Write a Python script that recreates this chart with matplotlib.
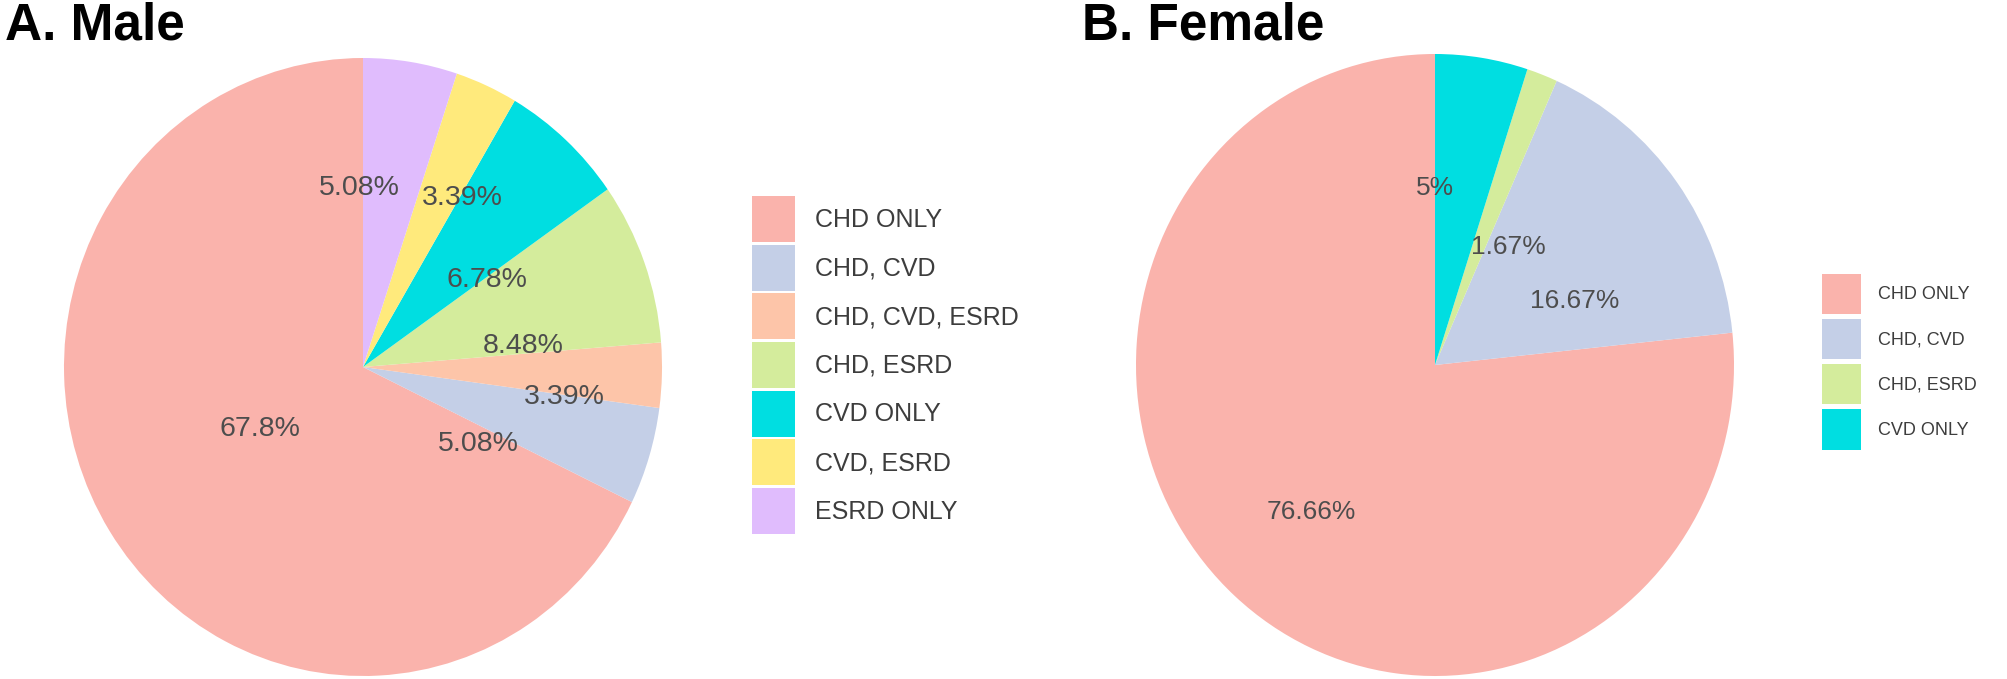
import numpy as np
import matplotlib
matplotlib.use("Agg")
from matplotlib import pyplot as plt

W, H = 2008, 679
DPI = 100

plt.rcParams['font.family'] = ['Liberation Sans', 'DejaVu Sans']

# -- data --------------------------------------------------------------------
male_groups = ['CHD ONLY', 'CHD, CVD', 'CHD, CVD, ESRD', 'CHD, ESRD',
               'CVD ONLY', 'CVD, ESRD', 'ESRD ONLY']
male_pct = [67.8, 5.08, 3.39, 8.48, 6.78, 3.39, 5.08]

female_groups = ['CHD ONLY', 'CHD, CVD', 'CHD, ESRD', 'CVD ONLY']
female_pct = [76.66, 16.67, 1.67, 5]

group_colors = {
    'CHD ONLY': '#FAB3AC',
    'CHD, CVD': '#C4CFE7',
    'CHD, CVD, ESRD': '#FDC5A9',
    'CHD, ESRD': '#D4EC9C',
    'CVD ONLY': '#00DEE1',
    'CVD, ESRD': '#FFEA7C',
    'ESRD ONLY': '#E0BCFD',
}

# label placement (clockwise degrees from 12 o'clock, fraction of radius)
male_lab_ang = [239.8, 122.8, 98.2, 82.6, 55.9, 31.3, -1.3]
male_lab_r = [0.40, 0.46, 0.68, 0.54, 0.50, 0.64, 0.58]
female_lab_ang = [221.2, 66.3, 32.8, 0.0]
female_lab_r = [0.63, 0.51, 0.45, 0.57]


def fmt(v):
    return ('%.2f' % v).rstrip('0').rstrip('.') + '%'


def px_axes(cx, cy, rx, ry):
    return [(cx - rx) / W, (H - cy - ry) / H, 2 * rx / W, 2 * ry / H]


def draw(rect, groups, vals, lab_ang, lab_r, fsize):
    ax = fig.add_axes(rect)
    wedges, _ = ax.pie(vals, colors=[group_colors[g] for g in groups],
                       startangle=90, counterclock=True, radius=1,
                       wedgeprops=dict(linewidth=0))
    ax.set_aspect('auto')
    ax.set_xlim(-1, 1)
    ax.set_ylim(-1, 1)
    ax.axis('off')
    for v, a, r in zip(vals, lab_ang, lab_r):
        t = np.deg2rad(90 - a)
        ax.text(r * np.cos(t), r * np.sin(t), fmt(v), ha='center',
                va='center', fontsize=fsize, color='#4D4D4D')
    return wedges


fig = plt.figure(figsize=(W / DPI, H / DPI), dpi=DPI)

# -- Male ------------------------------------------------------------------
mw = draw(px_axes(363, 367, 299, 309), male_groups, male_pct,
          male_lab_ang, male_lab_r, 20.5)
fig.text(5 / W, 1 - 40 / H, 'A. Male', fontsize=37, fontweight='bold',
         ha='left', va='baseline')
fig.legend(mw, male_groups, loc='upper left',
           bbox_to_anchor=(752 / W, 1 - 196 / H), frameon=False,
           fontsize=18, handlelength=1.72, handleheight=2.45,
           labelspacing=0.11, handletextpad=0.8, borderpad=0,
           borderaxespad=0, labelcolor='#3D3D3D')

# -- Female ----------------------------------------------------------------
fw = draw(px_axes(1435, 365, 299, 311), female_groups, female_pct,
          female_lab_ang, female_lab_r, 19)
fig.text(1082 / W, 1 - 40 / H, 'B. Female', fontsize=37, fontweight='bold',
         ha='left', va='baseline')
fig.legend(fw, female_groups, loc='upper left',
           bbox_to_anchor=(1822 / W, 1 - 274 / H), frameon=False,
           fontsize=13, handlelength=2.17, handleheight=3.04,
           labelspacing=0.28, handletextpad=0.94, borderpad=0,
           borderaxespad=0, labelcolor='#3D3D3D')

fig.savefig('out.png', dpi=DPI)
